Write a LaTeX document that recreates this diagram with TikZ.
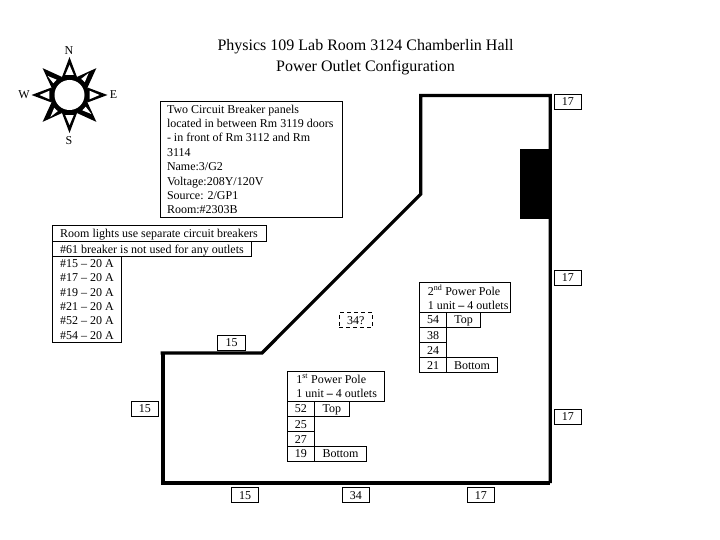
\documentclass[tikz,border=0pt]{standalone}
\usepackage{fontspec}
\setmainfont{Liberation Serif}
\usetikzlibrary{calc}
\tikzset{
  lbl/.style={font=\fontsize{12}{14.4}\selectfont},
  wall/.style={line width=3.2pt,line join=miter,line cap=butt},
  heavywall/.style={line width=4.3pt,line join=miter,line cap=butt},
  leftbox/.style={draw,line width=0.9pt,inner sep=0pt,lbl},
  plainbox/.style={leftbox,align=center,text height=9.5pt,text depth=1.5pt},
  dashbox/.style={plainbox,dash pattern=on 4pt off 3pt},
  titletext/.style={font=\fontsize{16}{20.5}\selectfont,align=center,inner sep=0pt},
  compasslbl/.style={lbl,inner sep=0pt}
}
% \bx[style]{name}{x1}{y1}{x2}{y2}{text}
\newcommand{\bx}[7][plainbox]{%
  \pgfmathsetmacro{\bxw}{#5-#3}\pgfmathsetmacro{\bxh}{#6-#4}%
  \pgfmathsetmacro{\bxcx}{(#3+#5)/2}\pgfmathsetmacro{\bxcy}{(#4+#6)/2}%
  \node[#1,minimum width=\bxw pt,minimum height=\bxh pt] (#2) at (\bxcx,\bxcy) {#7};}
% left-aligned box: \lbx[inset]{name}{x1}{y1}{x2}{y2}{text}
\newcommand{\lbx}[7][7.5]{%
  \pgfmathsetmacro{\bxw}{#5-#3}\pgfmathsetmacro{\bxh}{#6-#4}%
  \pgfmathsetmacro{\bxcx}{(#3+#5)/2}\pgfmathsetmacro{\bxcy}{(#4+#6)/2}%
  \pgfmathsetmacro{\bxt}{#5-#3-#1-1}%
  \node[leftbox,minimum width=\bxw pt,minimum height=\bxh pt] (#2) at (\bxcx,\bxcy) {\raisebox{-3pt}[0pt][0pt]{\hspace*{#1pt}\begin{minipage}{\bxt pt}\raggedright\fontsize{12}{14.4}\selectfont #7\end{minipage}\hspace*{1pt}}};}
\begin{document}
\begin{tikzpicture}[x=1pt,y=-1pt]
\useasboundingbox (0,0) rectangle (720,540);
% title
\node[titletext] (title) at (365.5,57) {Physics 109 Lab Room 3124 Chamberlin Hall\\Power Outlet Configuration};
% compass
\coordinate (cc) at (69.5,95);
\foreach \a in {0,45,...,315}{
  \fill ($(cc)+(\a:38)$) -- ($(cc)+(\a+22.5:19.5)$) -- ($(cc)+(\a-22.5:19.5)$) -- cycle;
}
\fill (cc) circle (19.5);
\fill[white] (cc) circle (15);
\foreach \a in {0,90,180,270}{
  \fill[white] ($(cc)+(\a:30)$) -- ($(cc)+(\a+12:20.5)$) -- ($(cc)+(\a-12:20.5)$) -- cycle;
}
\foreach \a in {45,135,225,315}{
  \fill[white] ($(cc)+(\a-4:29)$) -- ($(cc)+(\a+5:20)$) -- ($(cc)+(\a-9:20)$) -- cycle;
}
\node[compasslbl] (cn) at (69,51) {N};
\node[compasslbl] (cw) at (24,95) {W};
\node[compasslbl] (ce) at (113.5,95) {E};
\node[compasslbl] (cs) at (69,141) {S};
% walls
\coordinate (w1) at (160.5,353);
\coordinate (w2) at (262,353);
\coordinate (w3) at (420.8,194);
\coordinate (w4) at (420.8,95.5);
\coordinate (w5) at (550.3,95.5);
\coordinate (w6) at (550.3,483);
\coordinate (w7) at (162.7,483);
\coordinate (w8) at (162.7,352);
\draw[wall] (w1) -- (w2) -- (w3) -- (w4) -- (w5) -- (w6);
\draw[heavywall] (w8) -- (w7) -- (w6);
\fill (520,149) rectangle (551,218.7);
% panel info
\lbx[6.5]{panel}{160.5}{101.7}{342.7}{217.3}{Two Circuit Breaker panels\\located in between Rm 3119 doors\\- in front of Rm 3112 and Rm\\3114\\Name:3/G2\\Voltage:208Y/120V\\Source: 2/GP1\\Room:\#2303B}
\lbx{lights}{52.7}{225.7}{266.7}{241}{\vspace*{3pt}Room lights use separate circuit breakers}
\lbx{unused}{52.7}{241}{251.7}{256.7}{\vspace*{3pt}\#61 breaker is not used for any outlets}
\lbx{breakers}{52.7}{256.7}{121.7}{342}{\#15 – 20 A\\\#17 – 20 A\\\#19 – 20 A\\\#21 – 20 A\\\#52 – 20 A\\\#54 – 20 A}
% outlet labels
\bx{a15}{217.7}{335.7}{245.7}{350}{15}
\bx[dashbox]{a34q}{339.3}{312.3}{372.3}{327.7}{34?}
\bx{b15}{131}{401.3}{158.7}{416.3}{15}
\bx{c15}{231.3}{487.3}{258.7}{502.7}{15}
\bx{c34}{342.3}{487.3}{369.3}{502.7}{34}
\bx{c17}{467.3}{487.3}{494.3}{502.7}{17}
\bx{r17a}{554.3}{94.3}{581.3}{109.3}{17}
\bx{r17b}{554.3}{270.3}{581.3}{285.3}{17}
\bx{r17c}{554.3}{409.3}{581.3}{424.3}{17}
% 2nd pole
\lbx[8.5]{ptwo}{419.3}{282.7}{510}{312}{2\textsuperscript{nd} Power Pole\\1 unit \textbf{–} 4 outlets}
\bx{t54}{419.3}{312}{446.7}{327.3}{54}
\bx{tTop}{446.7}{312}{480.7}{327.3}{Top}
\bx{t38}{419.3}{327.3}{446.7}{342.7}{38}
\bx{t24}{419.3}{342.7}{446.7}{357.7}{24}
\bx{t21}{419.3}{357.7}{446.7}{372.3}{21}
\bx{tBot}{446.7}{357.7}{497.3}{372.3}{Bottom}
% 1st pole
\lbx[9]{pone}{287.3}{371.3}{384.7}{401}{1\textsuperscript{st} Power Pole\\1 unit \textbf{–} 4 outlets}
\bx{o52}{287.3}{401}{314.3}{416.7}{52}
\bx{oTop}{314.3}{401}{349.3}{416.7}{Top}
\bx{o25}{287.3}{416.7}{314.3}{431.7}{25}
\bx{o27}{287.3}{431.7}{314.3}{446.3}{27}
\bx{o19}{287.3}{446.3}{314.3}{461.3}{19}
\bx{oBot}{314.3}{446.3}{366.7}{461.3}{Bottom}
\end{tikzpicture}
\end{document}
